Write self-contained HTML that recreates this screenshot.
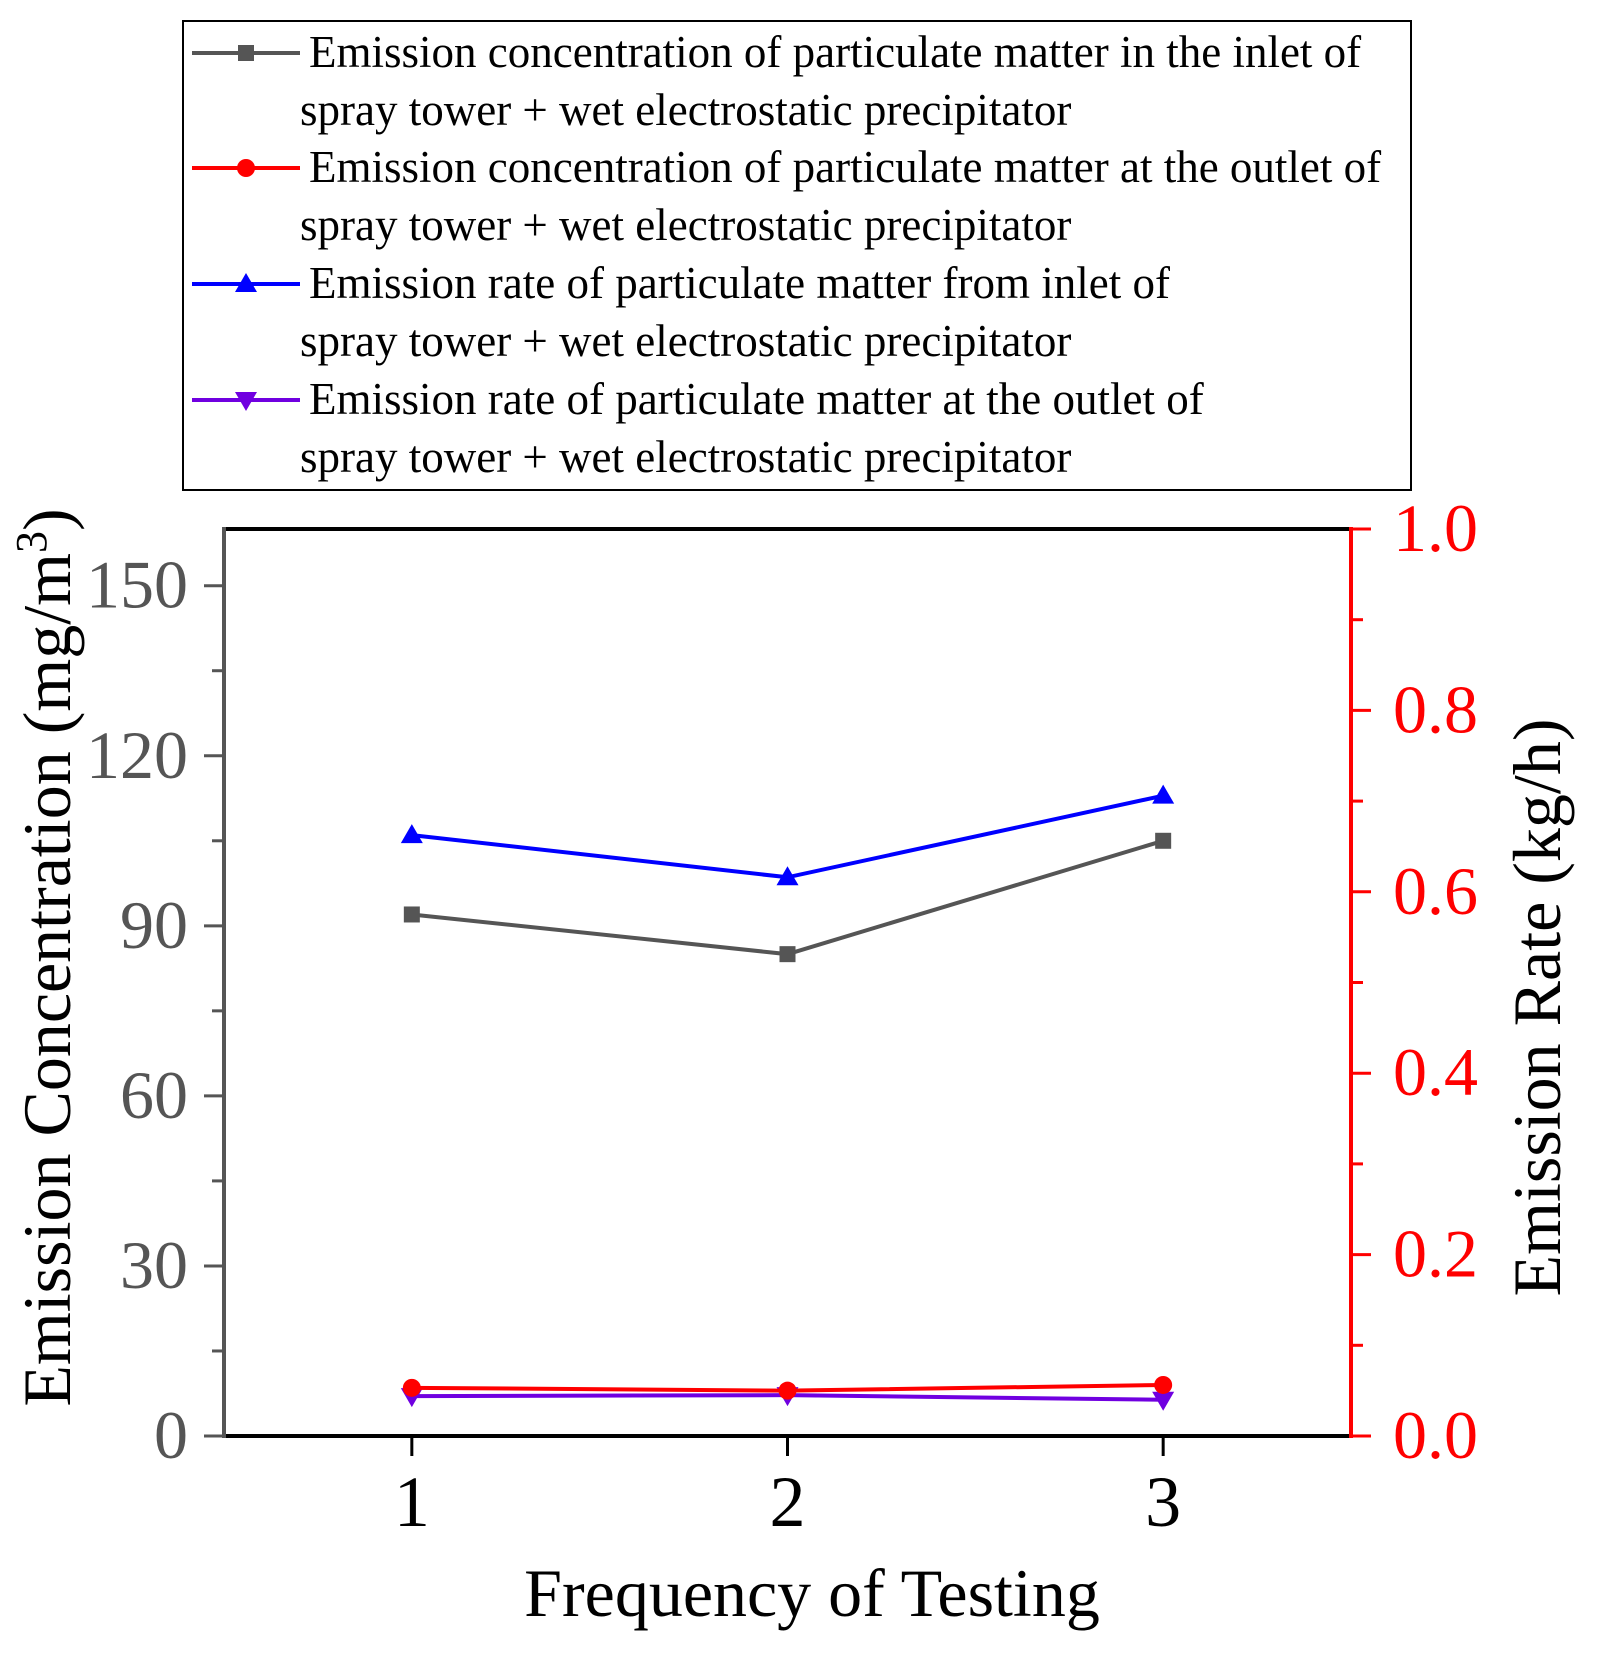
<!DOCTYPE html>
<html><head><meta charset="utf-8"><style>
html,body{margin:0;padding:0;background:#fff;}
svg{display:block;}
text{font-family:"Liberation Serif","Times New Roman",serif;}
</style></head><body>
<svg id="chart" width="1601" height="1653" viewBox="0 0 1601 1653" xmlns="http://www.w3.org/2000/svg">
<g id="legend">
<rect x="183" y="21" width="1228" height="469" fill="#fff" stroke="#000" stroke-width="2"/>
</g>
<g id="plot"></g>
</svg>
<script>
const categories=[1,2,3];
const concInlet=[92,85,105];
const concOutlet=[8.5,8,9];
const rateInlet=[0.6625,0.616,0.706];
const rateOutlet=[0.044,0.045,0.040];
const leftTicks=[0,30,60,90,120,150];
const rightTicks=[0.0,0.2,0.4,0.6,0.8,1.0];
const seriesNames=[
 ["Emission concentration of particulate matter in the inlet of","spray tower + wet electrostatic precipitator"],
 ["Emission concentration of particulate matter at the outlet of","spray tower + wet electrostatic precipitator"],
 ["Emission rate of particulate matter from inlet of","spray tower + wet electrostatic precipitator"],
 ["Emission rate of particulate matter at the outlet of","spray tower + wet electrostatic precipitator"]];

const NS="http://www.w3.org/2000/svg";
const FF='"Liberation Serif","Times New Roman",serif';
const L=224,R=1351,T=529,B=1436;
const xS=v=>L+(v-0.5)/3*(R-L);
const yL=v=>B-v/160*(B-T);
const yR=v=>B-v/1*(B-T);
const plot=document.getElementById('plot');
const legend=document.getElementById('legend');
function mk(tag,attrs,parent,text){const e=document.createElementNS(NS,tag);for(const k in attrs)e.setAttribute(k,attrs[k]);if(tag==='text')e.setAttribute('font-family',FF);if(text!==undefined)e.textContent=text;(parent||plot).appendChild(e);return e;}

let e;
e=mk('line',{x1:L,y1:T,x2:R,y2:T,stroke:'#000','stroke-width':4});


e=mk('line',{x1:L,y1:B,x2:R,y2:B,stroke:'#000','stroke-width':4});


e=mk('line',{x1:L,y1:T-2,x2:L,y2:B+2,stroke:'#555','stroke-width':4});


e=mk('line',{x1:R,y1:T-2,x2:R,y2:B+2,stroke:'#f00','stroke-width':4});



for(let v=0;v<=160;v+=15){const maj=v%30===0;
 e=mk('line',{x1:L-(maj?20:12),y1:yL(v),x2:L,y2:yL(v),stroke:'#555','stroke-width':3});
 
 }
leftTicks.forEach(v=>{e=mk('text',{x:L-36,y:yL(v)+22,'text-anchor':'end','font-size':68,fill:'#555'},plot,String(v));
 
 });
for(let i=0;i<=10;i++){const v=i/10;const maj=i%2===0;
 e=mk('line',{x1:R,y1:yR(v),x2:R+(maj?20:12),y2:yR(v),stroke:'#f00','stroke-width':3});
 
 }
rightTicks.forEach(v=>{e=mk('text',{x:R+42,y:yR(v)+22,'font-size':68,fill:'#f00'},plot,v.toFixed(1));
 
 });
categories.forEach(c=>{e=mk('line',{x1:xS(c),y1:B,x2:xS(c),y2:B+20,stroke:'#000','stroke-width':3});
 
 
 e=mk('text',{x:xS(c),y:B+90,'text-anchor':'middle','font-size':72,fill:'#000'},plot,String(c));
 
 });
e=mk('text',{x:812,y:1616,'text-anchor':'middle','font-size':68,fill:'#000'},plot,'Frequency of Testing');


e=mk('text',{x:0,y:0,'text-anchor':'middle','font-size':68,fill:'#000',transform:`translate(70,${(T+B)/2-25}) rotate(-90)`},plot);
e.innerHTML='Emission Concentration (mg/m<tspan font-size="44" dy="-24">3</tspan><tspan dy="24">)</tspan>';


e=mk('text',{x:0,y:0,'text-anchor':'middle','font-size':68,fill:'#000',transform:`translate(1560,${(T+B)/2+25}) rotate(-90)`},plot,'Emission Rate (kg/h)');



function marker(type,x,y,color,parent){
 if(type==='square')return mk('rect',{x:x-8,y:y-8,width:16,height:16,fill:color},parent);
 if(type==='circle')return mk('circle',{cx:x,cy:y,r:9,fill:color},parent);
 if(type==='up')return mk('polygon',{points:`${x},${y-11} ${x-11},${y+8} ${x+11},${y+8}`,fill:color},parent);
 return mk('polygon',{points:`${x},${y+11} ${x-11},${y-8} ${x+11},${y-8}`,fill:color},parent);
}
const series=[
 {vals:concInlet,sc:yL,color:'#555',m:'square',name:'series-inlet-concentration'},
 {vals:concOutlet,sc:yL,color:'#f00',m:'circle',name:'series-outlet-concentration'},
 {vals:rateInlet,sc:yR,color:'#00f',m:'up',name:'series-inlet-rate'},
 {vals:rateOutlet,sc:yR,color:'#7000e0',m:'down',name:'series-outlet-rate'}];
[3,1,0,2].forEach(i=>{const s=series[i];
 const pts=s.vals.map((v,j)=>xS(categories[j])+','+s.sc(v)).join(' ');
 e=mk('polyline',{points:pts,fill:'none',stroke:s.color,'stroke-width':4});
 
 
 s.vals.forEach((v,j)=>{e=marker(s.m,xS(categories[j]),s.sc(v),s.color);
  
  });
});
const ly=[53,168,284,400];
series.forEach((s,i)=>{
 e=mk('line',{x1:192,y1:ly[i],x2:300,y2:ly[i],stroke:s.color,'stroke-width':4},legend);
 
 
 e=marker(s.m,246,ly[i],s.color,legend);
 
 
 e=mk('text',{x:309,y:ly[i]+14,'font-size':45,fill:'#000'},legend,seriesNames[i][0]);
 
 
 e=mk('text',{x:300,y:ly[i]+72,'font-size':45,fill:'#000'},legend,seriesNames[i][1]);
 
 
});
</script>
</body></html>
